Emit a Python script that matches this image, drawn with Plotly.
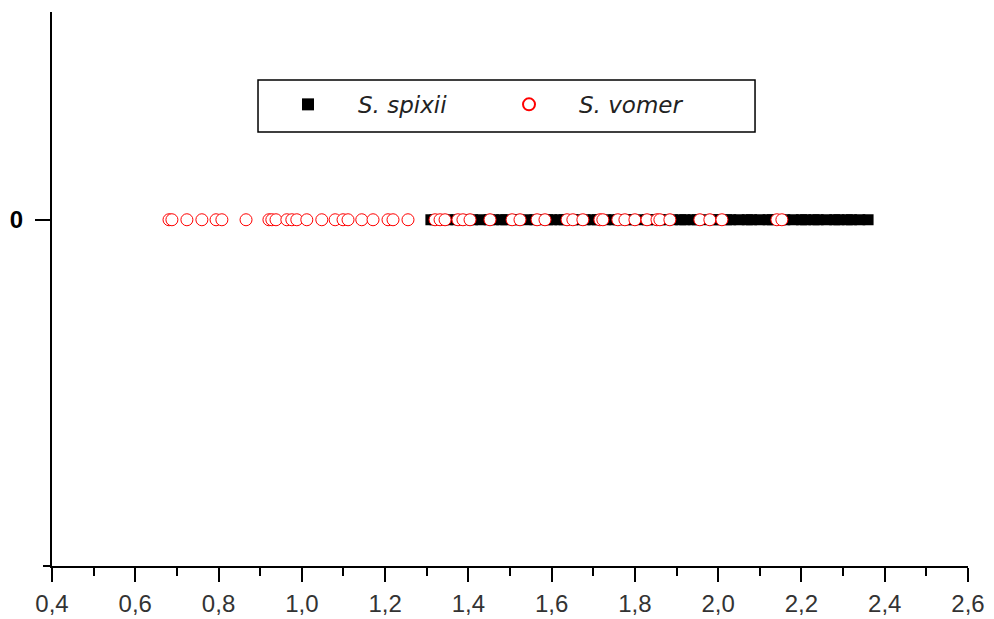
import plotly.graph_objects as go

# S. spixii values (black squares)
spixii_x = [1.31, 1.32, 1.34, 1.35, 1.37, 1.38, 1.40, 1.41, 1.43, 1.45, 1.46, 1.48,
            1.49, 1.51, 1.52, 1.54, 1.56, 1.57, 1.59, 1.60, 1.62, 1.63, 1.65, 1.67,
            1.68, 1.70, 1.71, 1.73, 1.75, 1.76, 1.78, 1.79, 1.81, 1.83, 1.84, 1.86,
            1.87, 1.89, 1.91, 1.92, 1.94, 1.95, 1.97, 1.99, 2.00, 2.02, 2.03, 2.05,
            2.07, 2.08, 2.10, 2.12, 2.13, 2.15, 2.16, 2.18, 2.20, 2.21, 2.23, 2.24,
            2.26, 2.28, 2.29, 2.31, 2.32, 2.34, 2.36]
spixii_y = [0] * len(spixii_x)

# S. vomer values (red open circles)
vomer_x = [0.681, 0.688, 0.724, 0.760, 0.794, 0.808, 0.866, 0.921, 0.928, 0.938,
           0.964, 0.976, 0.988, 1.012, 1.048, 1.080, 1.099, 1.111, 1.144, 1.171,
           1.207, 1.219, 1.255, 1.320, 1.332, 1.344, 1.375, 1.387, 1.404, 1.452,
           1.505, 1.524, 1.565, 1.584, 1.637, 1.651, 1.675, 1.716, 1.723, 1.759,
           1.776, 1.800, 1.829, 1.853, 1.860, 1.884, 1.956, 1.980, 2.009, 2.141,
           2.153]
vomer_y = [0] * len(vomer_x)

x_ticks = [0.4, 0.6, 0.8, 1.0, 1.2, 1.4, 1.6, 1.8, 2.0, 2.2, 2.4, 2.6]
y_ticks = [0]

fig = go.Figure()
fig.add_trace(go.Scatter(
    x=spixii_x, y=spixii_y, mode="markers", name="S. spixii",
    marker=dict(symbol="square", size=11, color="black", line=dict(width=0)),
))
fig.add_trace(go.Scatter(
    x=vomer_x, y=vomer_y, mode="markers", name="S. vomer",
    marker=dict(symbol="circle", size=12, color="white",
                line=dict(color="#ff0000", width=1)),
))

# legend frame
fig.add_shape(type="rect", xref="paper", yref="paper",
              x0=0.2249, x1=0.7675, y0=0.7834, y1=0.8773,
              line=dict(color="black", width=1.5), fillcolor="white", layer="below")

fig.update_layout(
    width=994, height=619,
    margin=dict(l=52, r=26, t=12, b=53, autoexpand=False),
    paper_bgcolor="white", plot_bgcolor="white",
    separators=", ",
    showlegend=True,
    legend=dict(
        orientation="h", x=0.2249, y=0.872, xanchor="left", yanchor="top",
        borderwidth=0, bgcolor="rgba(0,0,0,0)",
        font=dict(family="DejaVu Sans", size=23, color="#222222",
                  style="italic"),
        itemwidth=90, entrywidth=116,
        itemsizing="constant",
    ),
    xaxis=dict(
        range=[0.4, 2.6], tickvals=x_ticks, tickformat=".1f",
        showgrid=False, zeroline=False, automargin=False,
        showline=True, linecolor="black", linewidth=2,
        ticks="outside", ticklen=14, tickwidth=2, tickcolor="black",
        ticklabelstandoff=1,
        minor=dict(dtick=0.1, tick0=0.4, ticks="outside", ticklen=8,
                   tickwidth=2, tickcolor="black", showgrid=False),
        tickfont=dict(family="Liberation Sans, Arial", size=24, color="#333333"),
    ),
    yaxis=dict(
        range=[-1, 0.6], tickvals=y_ticks, ticktext=["0"], tickmode="array",
        showgrid=False, zeroline=False, automargin=False,
        showline=True, linecolor="black", linewidth=2,
        ticks="outside", ticklen=15, tickwidth=2, tickcolor="black",
        ticklabelstandoff=7,
        minor=dict(tickvals=[-1], ticks="outside", ticklen=7,
                   tickwidth=2, tickcolor="black", showgrid=False),
        tickfont=dict(family="Liberation Sans, Arial", size=24, color="black",
                      weight="bold"),
    ),
)

fig.write_html("out.html")
